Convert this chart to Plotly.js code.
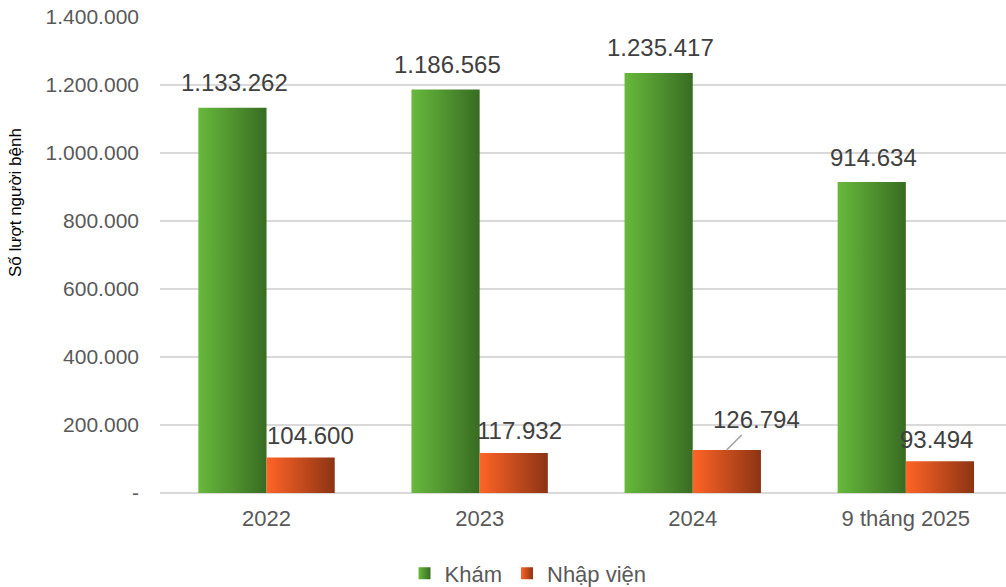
<!DOCTYPE html>
<html><head><meta charset="utf-8">
<script src="https://cdn.plot.ly/plotly-3.0.1.min.js"></script>
<style>html,body{margin:0;padding:0;background:#fff;}#chart{width:1006px;height:587px;}</style>
</head><body><div id="chart"></div>
<script>
const categories = ["2022", "2023", "2024", "9 tháng 2025"];
const kham = [1133262, 1186565, 1235417, 914634];
const nhapVien = [104600, 117932, 126794, 93494];
const yTickVals = [0, 200000, 400000, 600000, 800000, 1000000, 1200000, 1400000];
const yTickText = ["-", "200.000", "400.000", "600.000", "800.000", "1.000.000", "1.200.000", "1.400.000"];
const yTitle = "Số lượt người bệnh";

function fmt(v){ return String(v).replace(/\B(?=(\d{3})+(?!\d))/g, "."); }

const FONT = "Liberation Sans, Arial, sans-serif";
const traces = [
  {type:"bar", name:"Khám", x:categories, y:kham, marker:{color:"#52a030"}, hoverinfo:"none"},
  {type:"bar", name:"Nhập viện", x:categories, y:nhapVien, marker:{color:"#e0541c"}, hoverinfo:"none"}
];

const annotations = [];
categories.forEach((c,i)=>{
  annotations.push({x:i, y:kham[i], xref:"x", yref:"y", text:fmt(kham[i]), showarrow:false,
    xshift:-32, yshift:25, yanchor:"middle", font:{size:24, color:"#404040", family:FONT}});
  if (i === 2) {
    annotations.push({x:i, y:nhapVien[i], xref:"x", yref:"y", text:fmt(nhapVien[i]), showarrow:true,
      xshift:34, ax:30, ay:-30, arrowhead:0, arrowwidth:1.5, arrowcolor:"#a6a6a6", standoff:0,
      font:{size:24, color:"#404040", family:FONT}});
  } else {
    annotations.push({x:i, y:nhapVien[i], xref:"x", yref:"y", text:fmt(nhapVien[i]), showarrow:false,
      xshift:[10,6,0,-3][i]+34, yshift:22, yanchor:"middle", font:{size:24, color:"#404040", family:FONT}});
  }
});
annotations.push({xref:"paper", yref:"paper", x:0, xshift:-145, y:0.609, text:yTitle, textangle:-90,
  showarrow:false, xanchor:"center", yanchor:"middle", font:{size:17, color:"#000", family:FONT}});

const layout = {
  width:1006, height:587,
  margin:{l:160, r:0, t:17, b:94, autoexpand:false},
  paper_bgcolor:"#fff", plot_bgcolor:"#fff",
  barmode:"group", bargap:0.36, bargroupgap:0,
  font:{family:FONT, color:"#595959"},
  showlegend:true,
  legend:{orientation:"h", x:0.435, xanchor:"center", y:-0.125, yanchor:"top",
    font:{size:22, color:"#595959", family:FONT}, traceorder:"normal", itemwidth:30},
  xaxis:{type:"category", range:[-0.5, 3.47], tickfont:{size:22, color:"#595959", family:FONT},
    showgrid:false, zeroline:false, showline:false, ticks:"", ticklabelstandoff:10},
  yaxis:{range:[0, 1400000], tickvals:yTickVals, ticktext:yTickText,
    tickfont:{size:21, color:"#595959", family:FONT}, gridcolor:"#d9d9d9", gridwidth:1.5,
    zeroline:true, zerolinecolor:"#d9d9d9", zerolinewidth:1.5, showline:false, ticks:"",
    ticklabelstandoff:20},
  annotations:annotations
};

Plotly.newPlot("chart", traces, layout, {displayModeBar:false, staticPlot:true}).then(gd=>{
  const svg = gd.querySelector("svg.main-svg");
  const ns = "http://www.w3.org/2000/svg";
  let defs = svg.querySelector("defs");
  if(!defs){ defs = document.createElementNS(ns,"defs"); svg.insertBefore(defs, svg.firstChild); }
  function grad(id, c1, c2){
    const g = document.createElementNS(ns,"linearGradient");
    g.setAttribute("id", id); g.setAttribute("x1","0"); g.setAttribute("x2","1"); g.setAttribute("y1","0"); g.setAttribute("y2","0");
    const s1 = document.createElementNS(ns,"stop"); s1.setAttribute("offset","0"); s1.setAttribute("stop-color", c1);
    const s2 = document.createElementNS(ns,"stop"); s2.setAttribute("offset","1"); s2.setAttribute("stop-color", c2);
    g.appendChild(s1); g.appendChild(s2); defs.appendChild(g);
  }
  grad("gGreen", "#67b93c", "#386c22");
  grad("gOrange", "#ff6426", "#8c3414");
  const ids = ["gGreen","gOrange"];
  gd.querySelectorAll(".barlayer .trace.bars").forEach((t,i)=>{
    t.querySelectorAll("path").forEach(p=>{ p.style.fill = "url(#"+ids[i]+")"; });
  });
  gd.querySelectorAll(".legend .traces").forEach((t,i)=>{
    t.querySelectorAll(".legendpoints path").forEach(p=>{ p.style.fill = "url(#"+ids[i]+")"; p.style.stroke="none"; });
  });
});
</script></body></html>
